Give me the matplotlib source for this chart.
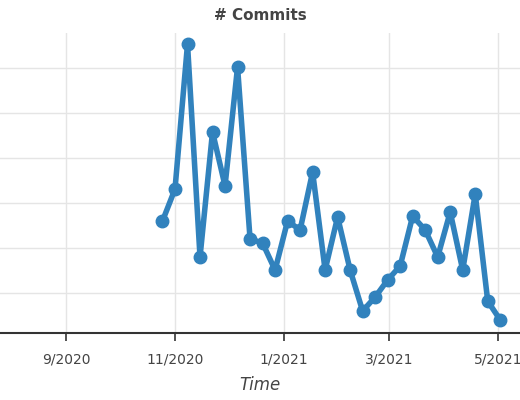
import matplotlib
matplotlib.use("Agg")
import matplotlib.pyplot as plt
import matplotlib.dates as mdates
import pandas as pd

dates = pd.date_range("2020-10-25", periods=28, freq="7D")
commits = [26.0, 33.1, 65.3, 18.0, 45.8, 33.8, 60.2, 22.0, 21.1, 15.1, 26.0, 24.0, 36.9,
           15.1, 26.9, 15.1, 6.0, 9.1, 12.9, 16.0, 27.1, 24.0, 18.0, 28.0, 15.1, 32.0, 8.2, 4.0]
tick_dates = pd.to_datetime(["2020-09-01", "2020-11-01", "2021-01-01", "2021-03-01", "2021-05-01"])
tick_labels = ["9/2020", "11/2020", "1/2021", "3/2021", "5/2021"]

fig = plt.figure(figsize=(5.2, 4.0), dpi=100)
ax = fig.add_axes([0.0, 1 - 333 / 400, 1.0, 300 / 400])
ax.plot(dates, commits, color="#3182bd", lw=4, marker="o", ms=9, solid_joinstyle="round")
x0 = pd.Timestamp("2020-09-01") - pd.Timedelta(days=66 / 1.787)
x1 = x0 + pd.Timedelta(days=520 / 1.787)
ax.set_xlim(x0, x1)
ax.set_ylim((338 - 333) / 4.5, (338 - 33) / 4.5)
ax.set_yticks([10, 20, 30, 40, 50, 60])
ax.tick_params(axis="y", left=False, labelleft=False)
ax.set_xticks(tick_dates)
ax.set_xticklabels(tick_labels, color="#444444", fontsize=10)
ax.tick_params(axis="x", length=6, width=1.2, color="#333333", pad=8)
ax.grid(True, color="#e5e5e5", lw=1)
ax.set_axisbelow(True)
for s in ["top", "right", "left"]:
    ax.spines[s].set_visible(False)
ax.spines["bottom"].set_color("#333333")
ax.spines["bottom"].set_linewidth(1.5)
fig.text(0.5, 1 - 16 / 400, "# Commits", ha="center", va="center", fontsize=11,
         fontweight="bold", color="#444444")
fig.text(0.5, 1 - 385 / 400, "Time", ha="center", va="center", fontsize=12,
         style="italic", color="#444444")
fig.savefig("out.png", dpi=100)
